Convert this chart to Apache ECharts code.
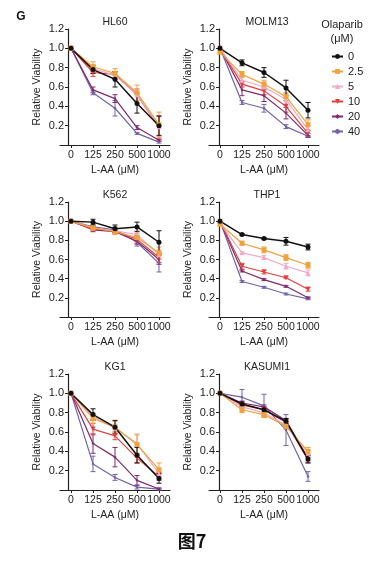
<!DOCTYPE html>
<html><head><meta charset="utf-8">
<script src="https://cdn.jsdelivr.net/npm/echarts@6/dist/echarts.min.js"></script>
<style>html,body{margin:0;padding:0;background:#fff}#c{width:382px;height:568px}</style>
</head><body><div id="c"></div>
<script>
// Categories
const doses = ['0', '125', '250', '500', '1000'];
const olaparib = ['0', '2.5', '5', '10', '20', '40'];
const cellLines = ['HL60', 'MOLM13', 'K562', 'THP1', 'KG1', 'KASUMI1'];

// Values: one row per olaparib dose (0, 2.5, 5, 10, 20, 40 µM)
const HL60 = [
  [1.00, 0.78, 0.68, 0.43, 0.20],
  [1.00, 0.81, 0.74, 0.54, 0.21],
  [1.00, 0.79, 0.72, 0.52, 0.19],
  [1.00, 0.75, 0.73, 0.52, 0.18],
  [1.00, 0.57, 0.48, 0.18, 0.05],
  [1.00, 0.54, 0.38, 0.12, 0.03]
];
const HL60_err = [
  [0, 0.04, 0.08, 0.10, 0.10],
  [0, 0.05, 0.05, 0.08, 0.13],
  [0, 0.04, 0.04, 0.06, 0.10],
  [0, 0.04, 0.03, 0.06, 0.12],
  [0, 0.03, 0.04, 0.02, 0.01],
  [0, 0.02, 0.08, 0.01, 0.01]
];
const MOLM13 = [
  [1.00, 0.85, 0.75, 0.59, 0.36],
  [0.96, 0.73, 0.63, 0.50, 0.21],
  [1.00, 0.67, 0.60, 0.47, 0.16],
  [1.00, 0.63, 0.56, 0.40, 0.12],
  [1.00, 0.57, 0.51, 0.33, 0.10],
  [1.00, 0.44, 0.38, 0.19, 0.09]
];
const MOLM13_err = [
  [0, 0.03, 0.05, 0.08, 0.08],
  [0.02, 0.03, 0.04, 0.04, 0.05],
  [0, 0.04, 0.05, 0.06, 0.04],
  [0, 0.03, 0.04, 0.06, 0.03],
  [0, 0.06, 0.06, 0.06, 0.02],
  [0, 0.02, 0.04, 0.02, 0.01]
];
const K562 = [
  [1.00, 0.99, 0.92, 0.94, 0.78],
  [1.00, 0.93, 0.89, 0.83, 0.67],
  [1.00, 0.93, 0.90, 0.86, 0.65],
  [1.00, 0.92, 0.90, 0.81, 0.62],
  [1.00, 0.91, 0.89, 0.79, 0.60],
  [1.00, 0.94, 0.91, 0.78, 0.56]
];
const K562_err = [
  [0, 0.03, 0.04, 0.05, 0.12],
  [0, 0.02, 0.03, 0.04, 0.06],
  [0, 0.02, 0.03, 0.04, 0.05],
  [0, 0.02, 0.02, 0.04, 0.05],
  [0, 0.02, 0.02, 0.03, 0.05],
  [0, 0.02, 0.03, 0.04, 0.09]
];
const THP1 = [
  [1.00, 0.86, 0.82, 0.79, 0.73],
  [0.97, 0.77, 0.70, 0.62, 0.54],
  [0.98, 0.67, 0.62, 0.53, 0.46],
  [1.00, 0.53, 0.47, 0.41, 0.29],
  [1.00, 0.48, 0.39, 0.32, 0.20],
  [1.00, 0.37, 0.31, 0.24, 0.19]
];
const THP1_err = [
  [0, 0.01, 0.01, 0.04, 0.03],
  [0.02, 0.02, 0.03, 0.03, 0.03],
  [0, 0.01, 0.02, 0.03, 0.03],
  [0, 0.03, 0.02, 0.01, 0.02],
  [0, 0.01, 0.01, 0.01, 0.01],
  [0, 0.01, 0.01, 0.01, 0.01]
];
const KG1 = [
  [1.00, 0.78, 0.65, 0.36, 0.12],
  [1.00, 0.74, 0.65, 0.47, 0.21],
  [1.00, 0.76, 0.64, 0.48, 0.17],
  [1.00, 0.63, 0.56, 0.33, 0.14],
  [1.00, 0.48, 0.34, 0.10, 0.01],
  [1.00, 0.27, 0.13, 0.03, 0.01]
];
const KG1_err = [
  [0, 0.06, 0.07, 0.08, 0.05],
  [0, 0.05, 0.06, 0.10, 0.07],
  [0, 0.04, 0.04, 0.10, 0.04],
  [0, 0.06, 0.04, 0.05, 0.04],
  [0, 0.10, 0.10, 0.05, 0.01],
  [0, 0.08, 0.03, 0.02, 0.01]
];
const KASUMI1 = [
  [1.00, 0.89, 0.83, 0.71, 0.32],
  [1.00, 0.83, 0.78, 0.66, 0.40],
  [1.00, 0.86, 0.80, 0.67, 0.38],
  [1.00, 0.88, 0.83, 0.70, 0.31],
  [1.00, 0.90, 0.86, 0.72, 0.33],
  [1.00, 0.96, 0.87, 0.62, 0.14]
];
const KASUMI1_err = [
  [0, 0.02, 0.03, 0.03, 0.04],
  [0, 0.03, 0.03, 0.03, 0.04],
  [0, 0.02, 0.03, 0.03, 0.03],
  [0, 0.02, 0.02, 0.03, 0.03],
  [0, 0.02, 0.02, 0.02, 0.03],
  [0, 0.08, 0.12, 0.16, 0.05]
];

const panelValues = [HL60, MOLM13, K562, THP1, KG1, KASUMI1];
const panelErrors = [HL60_err, MOLM13_err, K562_err, THP1_err, KG1_err, KASUMI1_err];

// Styles
const colors = ['#111111', '#f0a23a', '#f2a9c6', '#e2403e', '#80296c', '#7363a6'];
const symbols = ['circle', 'rect', 'triangle', 'triangle', 'diamond', 'circle'];
const symbolSizes = [5, 5, 5, 5, 3, 2.5];
const symbolRotates = [0, 0, 0, 180, 0, 0];
const FONT = '"Liberation Sans", Arial, sans-serif';
const TXT = '#222';

const colLeft = [60, 209];
const colWidth = 110;
const yAxisOffset = [-8, -10];
const rowTop = [29, 202, 374];
const rowHeight = [116, 115, 116];
const titleX = [115, 267];
const titleY = [22, 195, 367];

const grids = [], xAxes = [], yAxes = [], series = [], graphics = [];
for (let p = 0; p < 6; p++) {
  const col = p % 2, row = Math.floor(p / 2);
  grids.push({ left: colLeft[col], top: rowTop[row], width: colWidth, height: rowHeight[row], containLabel: false });
  xAxes.push({
    type: 'category', gridIndex: p, data: doses, boundaryGap: true,
    axisLine: { show: true, lineStyle: { color: TXT, width: 1.2 } },
    axisTick: { show: true, alignWithLabel: true, length: 3, lineStyle: { color: TXT } },
    axisLabel: { interval: 0, fontSize: 10.5, color: TXT, fontFamily: FONT, margin: 5 },
    name: 'L-AA (μM)', nameLocation: 'middle', nameGap: 20,
    nameTextStyle: { fontSize: 10.5, color: TXT, fontFamily: FONT }
  });
  yAxes.push({
    type: 'value', gridIndex: p, min: 0, max: 1.2, interval: 0.2, offset: yAxisOffset[col],
    axisLine: { show: true, lineStyle: { color: TXT, width: 1.2 } },
    axisTick: { show: true, length: 3, lineStyle: { color: TXT } },
    splitLine: { show: false },
    axisLabel: { fontSize: 11, color: TXT, fontFamily: FONT, margin: 4,
      formatter: v => (v === 0 ? '' : v.toFixed(1)) },
    name: 'Relative Viability', nameLocation: 'middle', nameGap: 25,
    nameTextStyle: { fontSize: 10.5, color: TXT, fontFamily: FONT }
  });
  for (let i = olaparib.length - 1; i >= 0; i--) {
    const vals = panelValues[p][i];
    const errs = panelErrors[p][i];
    series.push({
      type: 'custom', xAxisIndex: p, yAxisIndex: p, silent: true, z: 2,
      data: vals.map((v, j) => [j, v, errs[j]]),
      renderItem: (params, api) => {
        const x = api.value(0), v = api.value(1), e = api.value(2);
        if (!e) return null;
        const t = api.coord([x, v + e]);
        const b = api.coord([x, v - e]);
        const cw = 2.5;
        const st = { stroke: colors[i], lineWidth: 1 };
        return { type: 'group', children: [
          { type: 'line', shape: { x1: t[0], y1: t[1], x2: b[0], y2: b[1] }, style: st },
          { type: 'line', shape: { x1: t[0] - cw, y1: t[1], x2: t[0] + cw, y2: t[1] }, style: st },
          { type: 'line', shape: { x1: b[0] - cw, y1: b[1], x2: b[0] + cw, y2: b[1] }, style: st }
        ]};
      }
    });
    series.push({
      name: olaparib[i], type: 'line', xAxisIndex: p, yAxisIndex: p, z: 3,
      data: vals, symbol: symbols[i], symbolSize: symbolSizes[i], symbolRotate: symbolRotates[i],
      showSymbol: true, animation: false,
      lineStyle: { color: colors[i], width: i === 0 ? 1.5 : 1.2 },
      itemStyle: { color: colors[i] }
    });
  }
  graphics.push({ type: 'text', x: titleX[col], y: titleY[row],
    style: { text: cellLines[p], font: '10.5px ' + FONT, fill: TXT, textAlign: 'center', textVerticalAlign: 'middle' } });
}

graphics.push({ type: 'text', x: 21, y: 17,
  style: { text: 'G', font: 'bold 12px ' + FONT, fill: '#111', textAlign: 'center', textVerticalAlign: 'middle' } });
graphics.push({ type: 'text', x: 342, y: 25,
  style: { text: 'Olaparib', font: '11px ' + FONT, fill: TXT, textAlign: 'center', textVerticalAlign: 'middle' } });
graphics.push({ type: 'text', x: 342, y: 39,
  style: { text: '(μM)', font: '11px ' + FONT, fill: TXT, textAlign: 'center', textVerticalAlign: 'middle' } });
graphics.push({ type: 'text', x: 192, y: 541,
  style: { text: '图7', font: 'bold 18px "Noto Sans CJK SC", sans-serif', fill: '#111', textAlign: 'center', textVerticalAlign: 'middle' } });

const chart = echarts.init(document.getElementById('c'), null, { renderer: 'canvas' });
chart.setOption({
  animation: false,
  backgroundColor: '#fff',
  grid: grids, xAxis: xAxes, yAxis: yAxes, series: series,
  legend: {
    orient: 'vertical', left: 326, top: 46, itemWidth: 11, itemHeight: 6, itemGap: 4,
    data: olaparib, selectedMode: false,
    textStyle: { fontSize: 11, color: TXT, fontFamily: FONT, lineHeight: 11 }
  },
  graphic: graphics
});
</script></body></html>
